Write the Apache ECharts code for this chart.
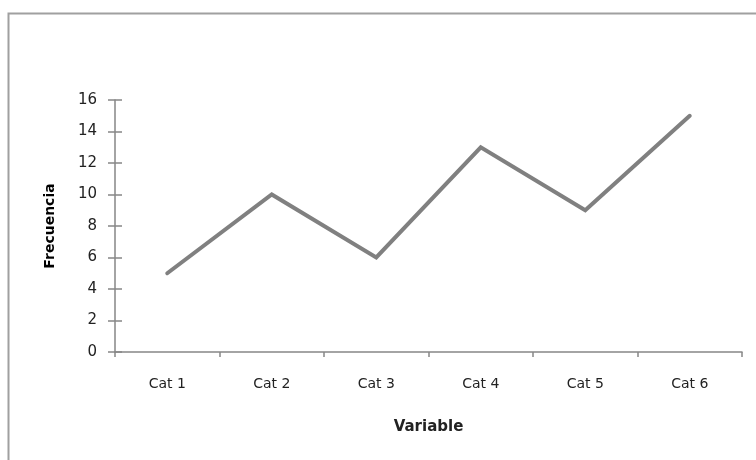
<!DOCTYPE html>
<html>
<head>
<meta charset="utf-8">
<script src="https://cdn.jsdelivr.net/npm/echarts@6/dist/echarts.min.js"></script>
<style>html,body{margin:0;padding:0;background:#fff;}#c{width:756px;height:460px;}</style>
</head>
<body>
<div id="c"></div>
<script>
var categories = ['Cat 1', 'Cat 2', 'Cat 3', 'Cat 4', 'Cat 5', 'Cat 6'];
var values = [5, 10, 6, 13, 9, 15];
var yTicks = {min: 0, max: 16, interval: 2};
var xTitle = 'Variable';
var yTitle = 'Frecuencia';

var chart = echarts.init(document.getElementById('c'), null, {renderer: 'canvas'});
var axisColor = '#868686';
var font = 'DejaVu Sans';
chart.setOption({
  animation: false,
  backgroundColor: '#ffffff',
  graphic: [{
    type: 'rect', left: 6, top: 11, silent: true,
    shape: {x: 0, y: 0, width: 800, height: 500},
    style: {fill: 'none', stroke: '#a0a0a0', lineWidth: 2}
  }],
  grid: {left: 115, right: 14, top: 100, bottom: 108, containLabel: false},
  xAxis: {
    type: 'category',
    data: categories,
    boundaryGap: true,
    name: xTitle,
    nameLocation: 'middle',
    nameGap: 68,
    nameTextStyle: {fontFamily: font, fontSize: 15, fontWeight: 'bold', color: '#222'},
    axisLine: {onZero: false, lineStyle: {color: axisColor, width: 1.5}},
    axisTick: {show: true, length: 5, lineStyle: {color: axisColor, width: 1.5}},
    axisLabel: {fontFamily: font, fontSize: 14, color: '#222', margin: 25}
  },
  yAxis: [{
    type: 'value',
    min: yTicks.min, max: yTicks.max, interval: yTicks.interval,
    name: yTitle,
    nameLocation: 'middle',
    nameGap: 58,
    nameTextStyle: {fontFamily: font, fontSize: 14, fontWeight: 'bold', color: '#000'},
    splitLine: {show: false},
    axisLine: {show: true, onZero: false, lineStyle: {color: axisColor, width: 1.5}},
    axisTick: {show: true, length: 7, lineStyle: {color: axisColor, width: 1.5}},
    axisLabel: {fontFamily: font, fontSize: 15, color: '#222', margin: 18}
  }, {
    type: 'value',
    position: 'left',
    offset: 0,
    min: yTicks.min, max: yTicks.max, interval: yTicks.interval,
    splitLine: {show: false},
    axisLine: {show: false},
    axisTick: {show: true, inside: true, length: 7, lineStyle: {color: axisColor, width: 1.5}},
    axisLabel: {show: false}
  }],
  series: [{
    type: 'line',
    data: values,
    yAxisIndex: 0,
    symbol: 'none',
    lineStyle: {color: '#808080', width: 4, cap: 'round', join: 'miter'}
  }]
});
</script>
</body>
</html>
